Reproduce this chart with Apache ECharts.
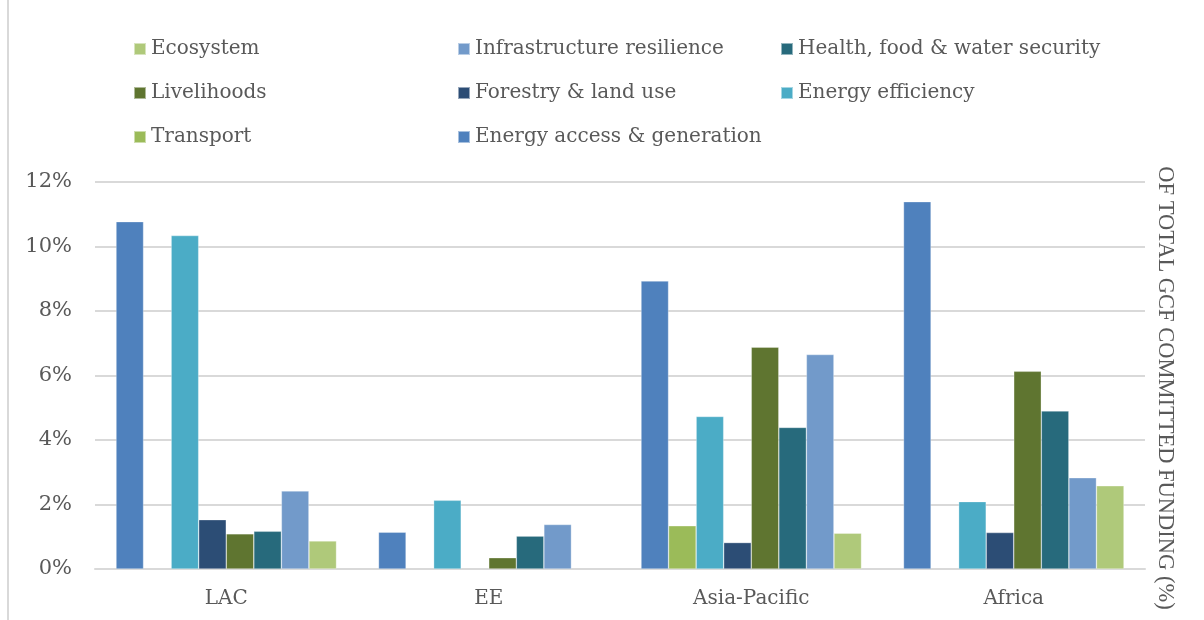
<!DOCTYPE html>
<html>
<head>
<meta charset="utf-8">
<script src="https://cdn.jsdelivr.net/npm/echarts@6/dist/echarts.min.js"></script>
<style>
  html, body { margin: 0; padding: 0; background: #fff; }
  #chart { width: 1204px; height: 620px; }
</style>
</head>
<body>
<div id="chart"></div>
<script>
// Regions on the category axis
const regions = ['LAC', 'EE', 'Asia-Pacific', 'Africa'];

// Share of total GCF committed funding (%) per theme, one value per region (null = no funding)
const energyAccess   = [10.77, 1.14, 8.93, 11.39];
const transport      = [null, null, 1.34, null];
const energyEff      = [10.34, 2.13, 4.73, 2.09];
const forestry       = [1.53, null, 0.82, 1.13];
const livelihoods    = [1.09, 0.35, 6.88, 6.13];
const healthFood     = [1.17, 1.02, 4.39, 4.90];
const infrastructure = [2.42, 1.38, 6.65, 2.83];
const ecosystem      = [0.87, null, 1.11, 2.58];

// Value-axis ticks
const yTicks = { min: 0, max: 12, interval: 2 };

const themes = [
  { name: 'Energy access & generation',    data: energyAccess,   color: '#4f81bd' },
  { name: 'Transport',                     data: transport,      color: '#9bbb59' },
  { name: 'Energy efficiency',             data: energyEff,      color: '#4bacc6' },
  { name: 'Forestry & land use',           data: forestry,       color: '#2c4d75' },
  { name: 'Livelihoods',                   data: livelihoods,    color: '#5f7530' },
  { name: 'Health, food & water security', data: healthFood,     color: '#276a7c' },
  { name: 'Infrastructure resilience',     data: infrastructure, color: '#729aca' },
  { name: 'Ecosystem',                     data: ecosystem,      color: '#afc97a' }
];

// Legend columns
const legendCols = [
  ['Ecosystem', 'Livelihoods', 'Transport'],
  ['Infrastructure resilience', 'Forestry & land use', 'Energy access & generation'],
  ['Health, food & water security', 'Energy efficiency']
];
const legendLefts = [133, 457, 780];

const FONT = 'DejaVu Serif';
const TEXT = '#595959';

const chart = echarts.init(document.getElementById('chart'), null, { renderer: 'canvas' });

chart.setOption({
  backgroundColor: '#ffffff',
  animation: false,
  textStyle: { fontFamily: FONT, color: TEXT },
  legend: legendCols.map((col, i) => ({
    orient: 'vertical',
    left: legendLefts[i],
    top: 37,
    padding: 0,
    itemWidth: 12,
    itemHeight: 12,
    itemGap: 20,
    icon: 'rect',
    selectedMode: false,
    textStyle: { fontFamily: FONT, fontSize: 20, color: TEXT, lineHeight: 24 },
    data: col
  })),
  grid: { left: 95, right: 59, top: 182, bottom: 51 },
  xAxis: {
    type: 'category',
    data: regions,
    axisLine: { lineStyle: { color: '#d9d9d9', width: 2 } },
    axisTick: { show: false },
    axisLabel: { fontFamily: FONT, fontSize: 20, color: TEXT, margin: 20 }
  },
  yAxis: {
    type: 'value',
    min: yTicks.min,
    max: yTicks.max,
    interval: yTicks.interval,
    axisLine: { show: false },
    axisTick: { show: false },
    splitLine: { lineStyle: { color: '#d9d9d9', width: 2 } },
    axisLabel: { fontFamily: FONT, fontSize: 21, color: TEXT, margin: 23, formatter: '{value}%' }
  },
  graphic: [
    {
      type: 'line',
      shape: { x1: 8, y1: 0, x2: 8, y2: 620 },
      style: { stroke: '#d9d9d9', lineWidth: 2 }
    },
    {
      type: 'text',
      x: 1165,
      y: 388,
      rotation: -Math.PI / 2,
      style: {
        text: 'OF TOTAL GCF COMMITTED FUNDING (%)',
        font: '22.5px "Liberation Serif"',
        fill: TEXT,
        align: 'center',
        verticalAlign: 'middle'
      }
    }
  ],
  series: themes.map(t => ({
    name: t.name,
    type: 'bar',
    data: t.data,
    barGap: '0%',
    barCategoryGap: '16%',
    itemStyle: { color: t.color, borderColor: 'rgba(255,255,255,0.5)', borderWidth: 0.6 }
  }))
});
</script>
</body>
</html>
